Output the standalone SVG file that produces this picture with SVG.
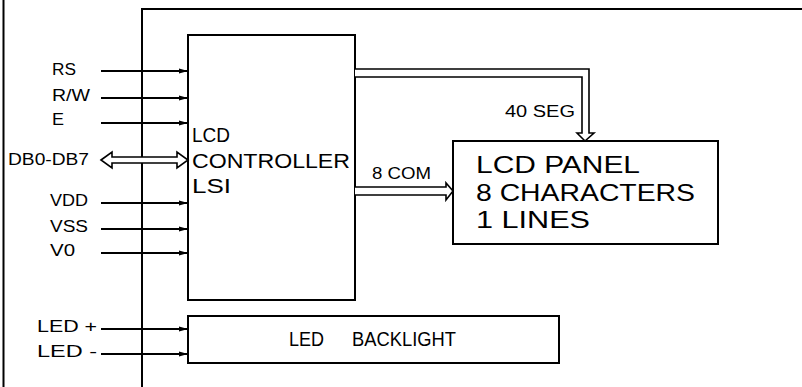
<svg xmlns="http://www.w3.org/2000/svg" width="802" height="387" viewBox="0 0 802 387">
<defs>
<style>
.ln{stroke:#000;stroke-width:2;fill:none}
.bx{stroke:#000;stroke-width:2;fill:#fff}
.bus{stroke:#000;stroke-width:1.6;fill:#fff;stroke-linejoin:miter}
text{font-family:"Liberation Sans",Arial,sans-serif;fill:#000}
.lbl{font-size:16px}
.big{font-size:20px}
.pan{font-size:24px}
</style>
<marker id="ah" markerWidth="9" markerHeight="6" refX="9" refY="3" orient="auto" markerUnits="userSpaceOnUse">
<path d="M0,0.5 L9,3 L0,5.5 Z" fill="#000"/>
</marker>
</defs>
<rect width="802" height="387" fill="#fff"/>
<g id="frame">
<line class="ln" x1="3.5" y1="0" x2="3.5" y2="387"/>
<line class="ln" x1="142" y1="387" x2="142" y2="9"/>
<line class="ln" x1="141" y1="9" x2="802" y2="9" stroke-width="2.5"/>
</g>
<g id="controller">
<rect class="bx" x="188" y="35" width="167" height="265"/>
<text class="big" x="192" y="142" textLength="38" lengthAdjust="spacingAndGlyphs">LCD</text>
<text class="big" x="192" y="168" textLength="158" lengthAdjust="spacingAndGlyphs">CONTROLLER</text>
<text class="big" x="192" y="193" textLength="39" lengthAdjust="spacingAndGlyphs">LSI</text>
</g>
<g id="panel">
<rect class="bx" x="453" y="141" width="265" height="103"/>
<text class="pan" x="476" y="173" textLength="164" lengthAdjust="spacingAndGlyphs">LCD PANEL</text>
<text class="pan" x="476" y="201" textLength="219" lengthAdjust="spacingAndGlyphs">8 CHARACTERS</text>
<text class="pan" x="476" y="228" textLength="114" lengthAdjust="spacingAndGlyphs">1 LINES</text>
</g>
<g id="backlight">
<rect class="bx" x="188" y="316" width="371" height="47"/>
<text class="big" x="289" y="346" textLength="35" lengthAdjust="spacingAndGlyphs">LED</text>
<text class="big" x="352" y="346" textLength="104" lengthAdjust="spacingAndGlyphs">BACKLIGHT</text>
</g>
<g id="labels">
<text class="lbl" x="52" y="75" textLength="24" lengthAdjust="spacingAndGlyphs">RS</text>
<text class="lbl" x="52" y="101" textLength="38" lengthAdjust="spacingAndGlyphs">R/W</text>
<text class="lbl" x="52" y="125" textLength="12" lengthAdjust="spacingAndGlyphs">E</text>
<text class="lbl" x="8" y="165" textLength="81" lengthAdjust="spacingAndGlyphs">DB0-DB7</text>
<text class="lbl" x="50" y="206" textLength="38" lengthAdjust="spacingAndGlyphs">VDD</text>
<text class="lbl" x="50" y="232" textLength="38" lengthAdjust="spacingAndGlyphs">VSS</text>
<text class="lbl" x="50" y="256" textLength="25" lengthAdjust="spacingAndGlyphs">V0</text>
<text class="lbl" x="37" y="332" textLength="60" lengthAdjust="spacingAndGlyphs">LED +</text>
<text class="lbl" x="37" y="357" textLength="60" lengthAdjust="spacingAndGlyphs">LED -</text>
<text class="lbl" x="505" y="117" textLength="70" lengthAdjust="spacingAndGlyphs">40 SEG</text>
<text class="lbl" x="372" y="179" textLength="59" lengthAdjust="spacingAndGlyphs">8 COM</text>
</g>
<g id="connectors">
<line class="ln" x1="101" y1="71" x2="188" y2="71" marker-end="url(#ah)"/>
<line class="ln" x1="101" y1="98" x2="188" y2="98" marker-end="url(#ah)"/>
<line class="ln" x1="101" y1="123" x2="188" y2="123" marker-end="url(#ah)"/>
<line class="ln" x1="101" y1="203" x2="188" y2="203" marker-end="url(#ah)"/>
<line class="ln" x1="101" y1="229" x2="188" y2="229" marker-end="url(#ah)"/>
<line class="ln" x1="101" y1="253" x2="188" y2="253" marker-end="url(#ah)"/>
<line class="ln" x1="101" y1="329" x2="188" y2="329" marker-end="url(#ah)"/>
<line class="ln" x1="101" y1="354" x2="188" y2="354" marker-end="url(#ah)"/>
<polygon class="bus" points="101,160 112,152 112,157 177,157 177,152 188,160 177,168 177,163 112,163 112,168"/>
<path class="bus" d="M355,69 L589,69 L589,133 L594,133 L585,141 L577,133 L582,133 L582,77 L355,77"/>
<path class="bus" d="M355,187 L446,187 L446,183 L453,191 L446,200 L446,195 L355,195"/>
</g>
</svg>
